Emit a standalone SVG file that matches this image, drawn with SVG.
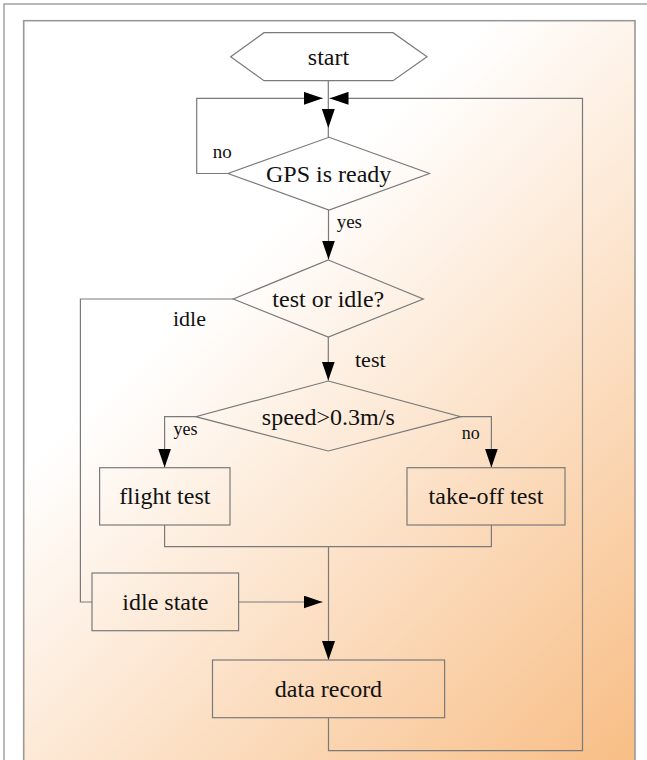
<svg xmlns="http://www.w3.org/2000/svg" width="647" height="760" viewBox="0 0 647 760">
  <defs>
    <linearGradient id="bg" gradientUnits="userSpaceOnUse" x1="215" y1="285" x2="645" y2="730">
      <stop offset="0" stop-color="#ffffff"/>
      <stop offset="1" stop-color="#f8bf88"/>
    </linearGradient>
    <marker id="arr" viewBox="0 0 19 13" refX="19" refY="6.5" markerWidth="19" markerHeight="13" markerUnits="userSpaceOnUse" orient="auto">
      <path d="M0,0 L19,6.5 L0,13 Z" fill="#000"/>
    </marker>
    <style>
      .shape { fill: none; stroke: #7a7a7a; stroke-width: 1.2; }
      .box { fill: none; stroke: #7a7a7a; stroke-width: 1.2; }
      .hex { fill: #ffffff; stroke: #7a7a7a; stroke-width: 1.2; }
      .conn { fill: none; stroke: #7a7a7a; stroke-width: 1.2; }
      .arrow { marker-end: url(#arr); }
      .t { font-size: 24px; fill: #111; text-anchor: middle; }
      .lbl { fill: #111; }
    </style>
  </defs>

  <rect x="0" y="0" width="647" height="760" fill="#ffffff"/>
  <rect x="4" y="4" width="660" height="780" fill="#ffffff" stroke="#a8a8a8" stroke-width="1.6"/>
  <rect x="23.7" y="20.7" width="611.3" height="760" fill="url(#bg)" stroke="#999999" stroke-width="1.6"/>

  <g id="connectors">
    <path class="conn arrow" d="M328.3,80.7 L328.3,128"/>
    <path class="conn" d="M328.3,128 L328.3,137.3"/>
    <path class="conn arrow" d="M228,173.5 L196.7,173.5 L196.7,98.3 L322.7,98.3"/>
    <path class="conn arrow" d="M328.5,717.7 L328.5,750.7 L582.5,750.7 L582.5,98.3 L329.5,98.3"/>
    <path class="conn arrow" d="M328.5,210 L328.5,259.5"/>
    <path class="conn arrow" d="M328.3,337 L328.3,380.5"/>
    <path class="conn" d="M233.3,299 L80.4,299 L80.4,602 L92,602"/>
    <path class="conn arrow" d="M195.7,416.7 L164.6,416.7 L164.6,467.5"/>
    <path class="conn arrow" d="M460.7,416.7 L491.4,416.7 L491.4,467.5"/>
    <path class="conn" d="M164.6,525 L164.6,546.7 L491.4,546.7 L491.4,525"/>
    <path class="conn arrow" d="M328.5,546.7 L328.5,660"/>
    <path class="conn arrow" d="M238.6,602 L322.5,602"/>
  </g>

  <g font-family="'Liberation Serif', 'Times New Roman', 'DejaVu Serif', serif">
  <g id="start">
    <polygon class="hex" points="230.7,56.7 264,32.7 393,32.7 427,56.7 393,80.7 264,80.7"/>
    <text class="t" x="328.5" y="64.5">start</text>
  </g>

  <g id="gps">
    <polygon class="shape" points="329,137.3 429.5,173.5 329,210 228,173.5"/>
    <text class="t" x="328.7" y="182">GPS is ready</text>
  </g>

  <g id="testidle">
    <polygon class="shape" points="328.3,260 423.3,299 328.3,337 233.3,299"/>
    <text class="t" x="328.3" y="307">test or idle?</text>
  </g>

  <g id="speed">
    <polygon class="shape" points="328.3,381 460.7,416.7 328.3,451 195.7,416.7"/>
    <text class="t" x="328.3" y="424.5">speed&gt;0.3m/s</text>
  </g>

  <g id="flight">
    <rect class="box" x="99.6" y="467.7" width="130.4" height="57.3"/>
    <text class="t" x="164.8" y="503.5">flight test</text>
  </g>

  <g id="takeoff">
    <rect class="box" x="407" y="467.7" width="158" height="57.3"/>
    <text class="t" x="486" y="503.5">take-off test</text>
  </g>

  <g id="idlestate">
    <rect class="box" x="92" y="573" width="146.6" height="57.7"/>
    <text class="t" x="165.3" y="609.5">idle state</text>
  </g>

  <g id="datarecord">
    <rect class="box" x="212.5" y="660" width="232.1" height="57.7"/>
    <text class="t" x="328.5" y="697">data record</text>
  </g>

  <g id="labels">
    <text class="lbl" x="212.7" y="158.3" font-size="19">no</text>
    <text class="lbl" x="336.7" y="228" font-size="19">yes</text>
    <text class="lbl" x="173" y="326" font-size="22">idle</text>
    <text class="lbl" x="355" y="366.7" font-size="22">test</text>
    <text class="lbl" x="173.6" y="435" font-size="18">yes</text>
    <text class="lbl" x="461.8" y="439" font-size="18">no</text>
  </g>
  </g>
</svg>
